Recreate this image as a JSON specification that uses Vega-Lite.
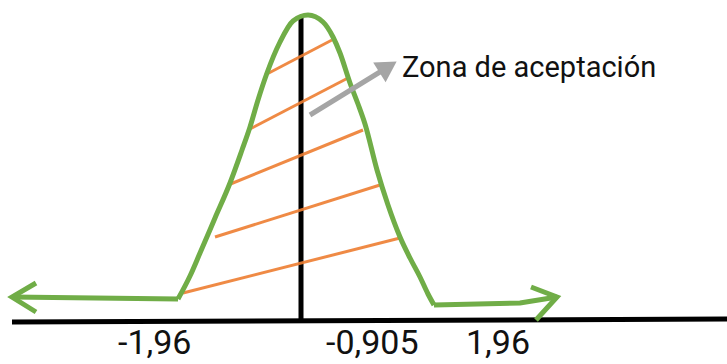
{
  "$schema": "https://vega.github.io/schema/vega-lite/v6.json",
  "width": 727,
  "height": 364,
  "autosize": "none",
  "padding": 0,
  "background": "white",
  "config": {"view": {"stroke": null}},
  "datasets": {
    "axes": [
      {"seg": "h", "ord": 1, "x": 12, "y": 322},
      {"seg": "h", "ord": 2, "x": 727, "y": 319},
      {"seg": "v", "ord": 1, "x": 301, "y": 17},
      {"seg": "v", "ord": 2, "x": 301, "y": 322}
    ],
    "flat": [
      {"seg": "lflat", "ord": 1, "x": 12, "y": 297},
      {"seg": "lflat", "ord": 2, "x": 178, "y": 299},
      {"seg": "lhead", "ord": 1, "x": 36, "y": 283},
      {"seg": "lhead", "ord": 2, "x": 12, "y": 297},
      {"seg": "lhead", "ord": 3, "x": 36, "y": 312},
      {"seg": "rflat", "ord": 1, "x": 434, "y": 305},
      {"seg": "rflat", "ord": 2, "x": 520, "y": 303},
      {"seg": "rflat", "ord": 3, "x": 557, "y": 297},
      {"seg": "rhead", "ord": 1, "x": 531, "y": 287},
      {"seg": "rhead", "ord": 2, "x": 557, "y": 297},
      {"seg": "rhead", "ord": 3, "x": 536, "y": 320}
    ],
    "bell": [
      {"x": 178, "y": 299}, {"x": 190, "y": 276}, {"x": 200, "y": 253},
      {"x": 215, "y": 218}, {"x": 230, "y": 183}, {"x": 242, "y": 150},
      {"x": 250, "y": 127}, {"x": 258, "y": 100}, {"x": 267, "y": 73},
      {"x": 280, "y": 42}, {"x": 293, "y": 21}, {"x": 308, "y": 15},
      {"x": 323, "y": 22}, {"x": 333, "y": 37}, {"x": 340, "y": 53},
      {"x": 350, "y": 83}, {"x": 358, "y": 104}, {"x": 365, "y": 124},
      {"x": 377, "y": 170}, {"x": 388, "y": 205}, {"x": 400, "y": 237},
      {"x": 410, "y": 258}, {"x": 420, "y": 277}, {"x": 428, "y": 294},
      {"x": 434, "y": 305}
    ],
    "hatch": [
      {"seg": 1, "x": 183, "y": 293}, {"seg": 1, "x": 400, "y": 238},
      {"seg": 2, "x": 215, "y": 237}, {"seg": 2, "x": 380, "y": 185},
      {"seg": 3, "x": 228, "y": 185}, {"seg": 3, "x": 363, "y": 130},
      {"seg": 4, "x": 248, "y": 130}, {"seg": 4, "x": 348, "y": 78},
      {"seg": 5, "x": 265, "y": 75}, {"seg": 5, "x": 332, "y": 40}
    ],
    "arrow": [
      {"x": 310, "y": 115}, {"x": 388, "y": 67}
    ],
    "head": [
      {"x": 388, "y": 67}
    ],
    "labels": [
      {"x": 402, "y": 77, "t": "Zona de aceptación", "s": 29},
      {"x": 118, "y": 354, "t": "-1,96", "s": 34},
      {"x": 326, "y": 354, "t": "-0,905", "s": 34},
      {"x": 466, "y": 354, "t": "1,96", "s": 34}
    ]
  },
  "encoding": {
    "x": {"field": "x", "type": "quantitative", "scale": {"domain": [0, 727], "nice": false, "zero": false}, "axis": null},
    "y": {"field": "y", "type": "quantitative", "scale": {"domain": [0, 364], "nice": false, "zero": false, "reverse": true}, "axis": null}
  },
  "layer": [
    {
      "data": {"name": "axes"},
      "mark": {"type": "line", "color": "#000000", "strokeWidth": 5, "strokeCap": "butt"},
      "encoding": {"detail": {"field": "seg"}, "order": {"field": "ord"}}
    },
    {
      "data": {"name": "hatch"},
      "mark": {"type": "line", "color": "#ed7d31", "strokeWidth": 3, "opacity": 0.9},
      "encoding": {"detail": {"field": "seg"}}
    },
    {
      "data": {"name": "bell"},
      "mark": {"type": "line", "color": "#70ad47", "strokeWidth": 5, "interpolate": "monotone"},
      "encoding": {}
    },
    {
      "data": {"name": "flat"},
      "mark": {"type": "line", "color": "#70ad47", "strokeWidth": 5, "strokeJoin": "miter"},
      "encoding": {"detail": {"field": "seg"}, "order": {"field": "ord"}}
    },
    {
      "data": {"name": "arrow"},
      "mark": {"type": "line", "color": "#a5a5a5", "strokeWidth": 5},
      "encoding": {}
    },
    {
      "data": {"name": "head"},
      "mark": {"type": "point", "shape": "triangle-right", "filled": true, "color": "#a5a5a5", "opacity": 1, "size": 550, "angle": 328},
      "encoding": {}
    },
    {
      "data": {"name": "labels"},
      "mark": {"type": "text", "align": "left", "baseline": "alphabetic", "font": "Roboto", "color": "#111111"},
      "encoding": {"text": {"field": "t"}, "size": {"field": "s", "type": "quantitative", "scale": null}}
    }
  ]
}
